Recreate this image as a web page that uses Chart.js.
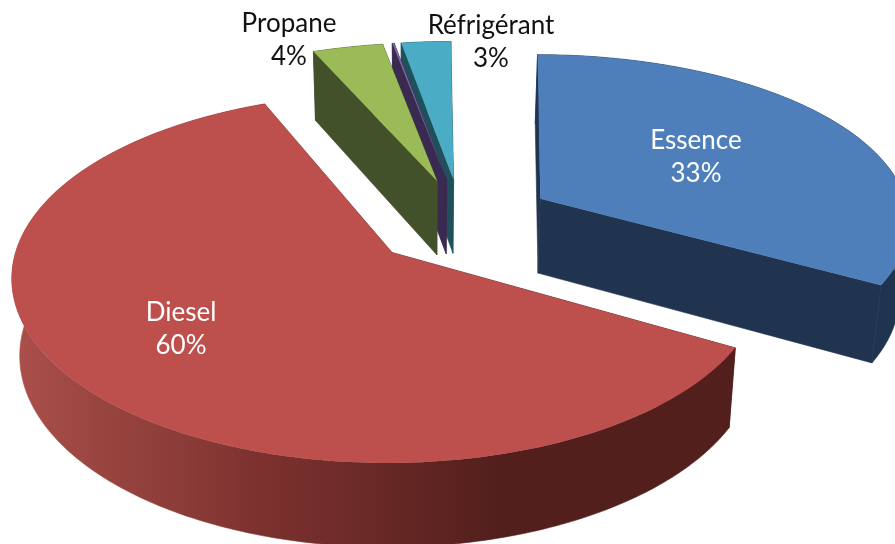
<!DOCTYPE html>
<html lang="fr">
<head>
<meta charset="utf-8">
<title>Répartition des carburants</title>
<script src="https://cdn.jsdelivr.net/npm/chart.js@4/dist/chart.umd.min.js"></script>
<style>
    html, body { margin: 0; padding: 0; background: #fff; }
    canvas { display: block; }
</style>
</head>
<body>
<canvas id="fuelChart" width="895" height="544"></canvas>
<script>
// Chart data
const categories = ['Essence', 'Diesel', 'Propane', 'Autre', 'Réfrigérant'];
const shares = [33.4, 60.45, 3.55, 0.1, 2.5];
const hiddenLabels = ['Autre'];

// Slice styles
const explode = [92, 92, 85, 85, 85];
const topColors = ['#4f7fbb', '#bd4f4c', '#9bbb59', '#8064a2', '#4bacc6'];
const sideColors = ['#203450', ['#aa4f4c', '#99453f', '#8c3c39', '#7c312e', '#6f2c29', '#612522', '#521f1c'], '#43512a', '#3a2a52', '#1f505c'];

// Label layout
const labelColors = ['#ffffff', '#ffffff', '#111111', '#111111', '#111111'];
const labelSpots = [[696, 141], [181, 313], [289, 24], null, [491, 26]];

// 3D view of the flat pie
const view = { cx: 461, cy: 222, rx: 372, ry: 181, persp: 0.14, perspX: 0.012, squash: 0.5, shrink: 0.13, shrinkX: 0.03, vanishX: 420, taper: 0.9804 };

// Project a point of the unit disc onto the top face
function project(a, u, v) {
    const w = 1 - view.persp * v + view.perspX * u;
    return [a.x + a.sx * view.rx * u / w, a.y + a.s * view.ry * v / w];
}

// Same point on the bottom face
function drop(p) {
    return [view.vanishX + (p[0] - view.vanishX) * view.taper, p[1] + 67 + 0.037 * p[1]];
}

function tracePath(ctx, pts) {
    ctx.beginPath();
    pts.forEach((p, i) => (i ? ctx.lineTo(p[0], p[1]) : ctx.moveTo(p[0], p[1])));
    ctx.closePath();
}

function sideFill(ctx, color) {
    if (!Array.isArray(color)) return color;
    const g = ctx.createLinearGradient(20, 0, 500, 0);
    color.forEach((c, i) => g.addColorStop(i / (color.length - 1), c));
    return g;
}

const pie3d = {
    id: 'pie3d',
    // The arcs keep their angles from Chart.js, only the drawing is replaced
    beforeDatasetDraw(chart) {
        const ctx = chart.ctx;
        const slices = chart.getDatasetMeta(0).data.map((arc, i) => {
            const mid = (arc.startAngle + arc.endAngle) / 2;
            const e = arc.options.offset;
            // slices pushed to the back look flatter
            const back = Math.max(0, -Math.sin(mid));
            return {
                arc, i,
                x: view.cx + e * Math.cos(mid),
                y: view.cy + e * view.squash * Math.sin(mid),
                s: 1 - view.shrink * Math.sqrt(back),
                sx: 1 - view.shrinkX * back * back,
            };
        });
        slices.sort((a, b) => a.y - b.y);
        slices.forEach(a => {
            const rim = [];
            const steps = Math.max(2, Math.ceil((a.arc.endAngle - a.arc.startAngle) * 60));
            for (let k = 0; k <= steps; k++) {
                const t = a.arc.startAngle + (a.arc.endAngle - a.arc.startAngle) * k / steps;
                rim.push(project(a, Math.cos(t), Math.sin(t)));
            }
            const apex = [a.x, a.y];
            const fill = sideFill(ctx, sideColors[a.i]);
            ctx.fillStyle = fill;
            ctx.strokeStyle = fill;
            ctx.lineWidth = 0.6;
            // cut faces, then the outer wall, then the top face
            [rim[0], rim[rim.length - 1]].forEach(p => {
                tracePath(ctx, [apex, p, drop(p), drop(apex)]);
                ctx.fill();
                ctx.stroke();
            });
            tracePath(ctx, rim.concat(rim.map(drop).reverse()));
            ctx.fill();
            ctx.stroke();
            ctx.fillStyle = a.arc.options.backgroundColor;
            tracePath(ctx, [apex].concat(rim));
            ctx.fill();
        });
        return false;
    },
    afterDatasetsDraw(chart) {
        const ctx = chart.ctx;
        const total = shares.reduce((sum, v) => sum + v, 0);
        ctx.font = '26px Lato, "Open Sans", sans-serif';
        ctx.textAlign = 'center';
        ctx.textBaseline = 'middle';
        categories.forEach((name, i) => {
            if (hiddenLabels.includes(name)) return;
            const spot = labelSpots[i];
            ctx.fillStyle = labelColors[i];
            ctx.fillText(name, spot[0], spot[1]);
            ctx.fillText(Math.round(shares[i] / total * 100) + '%', spot[0], spot[1] + 33);
        });
    }
};

// Chart initialization
new Chart(document.getElementById('fuelChart').getContext('2d'), {
    type: 'pie',
    data: {
        labels: categories,
        datasets: [{
            data: shares,
            backgroundColor: topColors,
            offset: explode,
            borderWidth: 0,
        }]
    },
    options: {
        responsive: false,
        animation: false,
        rotation: -0.5,
        plugins: {
            legend: { display: false },
            tooltip: { enabled: false },
        }
    },
    plugins: [pie3d]
});
</script>
</body>
</html>
